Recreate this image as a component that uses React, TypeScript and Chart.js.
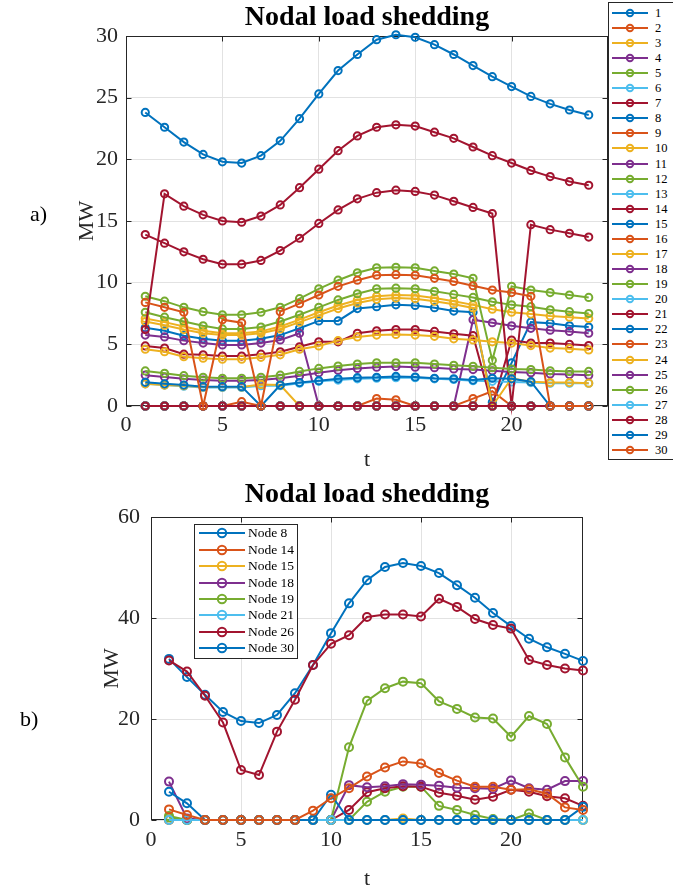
import React, { useEffect, useRef } from 'react';
import { Chart, registerables } from 'chart.js';

Chart.register(...registerables);

const FONT = '"Liberation Serif", "Times New Roman", serif';
const COLORS = ['#0072BD', '#D95319', '#EDB120', '#7E2F8E', '#77AC30', '#4DBEEE', '#A2142F'];

// time steps
const T = [1, 2, 3, 4, 5, 6, 7, 8, 9, 10, 11, 12, 13, 14, 15, 16, 17, 18, 19, 20, 21, 22, 23, 24];

// ---------- (a) nodal load shedding, nodes 1..30 ----------
const ZERO = [0, 0, 0, 0, 0, 0, 0, 0, 0, 0, 0, 0, 0, 0, 0, 0, 0, 0, 0, 0, 0, 0, 0, 0];
const N1 = [6.35, 6.1, 5.7, 5.45, 5.3, 5.3, 5.45, 5.75, 6.3, 6.9, 6.9, 7.9, 8.05, 8.2, 8.15, 7.97, 7.7, 7.6, 0.3, 3.5, 6.8, 6.7, 6.5, 6.4];
const N2 = ZERO;
const N3 = [7.1, 6.8, 6.45, 6.1, 5.9, 5.9, 6.05, 6.45, 7.0, 7.6, 8.15, 8.6, 8.9, 9.0, 8.95, 8.75, 8.5, 8.2, 7.85, 7.6, 7.45, 7.3, 7.2, 7.1];
const N4 = [5.75, 5.6, 5.3, 5.1, 4.95, 4.95, 5.1, 5.35, 5.9, 0, 0, 0, 0, 0, 0, 0, 0, 7.0, 6.75, 6.5, 6.3, 6.15, 6.05, 5.9];
const N5 = [8.9, 8.5, 8.0, 7.65, 7.4, 7.4, 7.6, 8.0, 8.7, 9.5, 10.2, 10.8, 11.2, 11.25, 11.2, 10.95, 10.7, 10.35, 3.7, 9.7, 9.4, 9.2, 9.0, 8.8];
const N6 = [1.8, 1.7, 1.6, 1.5, 1.5, 1.5, 1.65, 1.65, 1.85, 2.0, 2.1, 2.2, 2.25, 2.3, 2.3, 2.2, 2.15, 2.05, 2.0, 1.95, 1.9, 1.85, 1.85, 1.85];
const N7 = [4.87, 4.7, 4.2, 4.15, 4.05, 4.05, 4.2, 4.4, 4.8, 5.2, 5.2, 5.9, 6.1, 6.2, 6.2, 6.05, 5.85, 5.7, 0, 5.35, 5.1, 5.1, 5.0, 4.9];
const N8 = [23.8, 22.6, 21.4, 20.4, 19.8, 19.7, 20.3, 21.5, 23.3, 25.3, 27.2, 28.5, 29.7, 30.1, 29.9, 29.3, 28.5, 27.6, 26.7, 25.9, 25.1, 24.5, 24.0, 23.6];
const N9 = [0, 0, 0, 0, 0, 0.35, 0, 0, 0, 0, 0, 0, 0.6, 0.5, 0, 0, 0, 0.6, 1.2, 0, 0, 0, 0, 0];
const N10 = [4.6, 4.4, 4.0, 3.87, 3.8, 3.8, 3.95, 4.15, 4.6, 4.87, 5.3, 5.6, 5.75, 5.8, 5.75, 5.65, 5.45, 5.35, 5.2, 5.1, 4.9, 4.7, 4.65, 4.55];
const N11 = [2.5, 2.35, 2.2, 2.1, 2.05, 2.05, 2.1, 2.25, 2.45, 2.7, 2.9, 3.05, 3.15, 3.2, 3.15, 3.1, 3.0, 2.95, 2.85, 2.75, 2.7, 2.6, 2.55, 2.5];
const N12 = [7.6, 7.2, 6.85, 6.5, 6.25, 6.25, 6.4, 6.85, 7.4, 8.0, 8.6, 9.1, 9.5, 9.55, 9.5, 9.3, 9.05, 8.8, 8.45, 8.2, 8.05, 7.8, 7.65, 7.5];
const N13 = ZERO;
const N14 = [13.9, 13.2, 12.5, 11.9, 11.5, 11.5, 11.8, 12.6, 13.6, 14.8, 15.9, 16.8, 17.3, 17.5, 17.4, 17.1, 16.6, 16.1, 15.6, 0, 14.7, 14.3, 14.0, 13.7];
const N15 = ZERO;
const N16 = ZERO;
const N17 = [6.85, 6.55, 6.2, 5.9, 5.75, 5.75, 5.9, 6.25, 6.8, 7.35, 7.9, 8.35, 8.65, 8.75, 8.7, 8.5, 8.25, 7.95, 0, 2.25, 1.97, 1.9, 1.9, 1.85];
const N18 = ZERO;
const N19 = [2.84, 2.65, 2.46, 2.33, 2.25, 2.25, 2.33, 2.5, 2.8, 3.05, 3.24, 3.4, 3.5, 3.5, 3.5, 3.4, 3.3, 3.22, 3.1, 3.0, 2.95, 2.85, 2.8, 2.8];
const N20 = ZERO;
const N21 = [6.2, 17.2, 16.2, 15.5, 15.0, 14.9, 15.4, 16.3, 17.7, 19.2, 20.7, 21.9, 22.6, 22.8, 22.7, 22.2, 21.7, 21.0, 20.3, 19.7, 19.1, 18.6, 18.2, 17.9];
const N22 = ZERO;
const N23 = ZERO;
const N24 = [1.8, 1.7, 1.65, 1.55, 1.55, 1.55, 1.75, 1.7, 0, 0, 0, 0, 0, 0, 0, 0, 0, 0, 0, 0, 0, 0, 0, 0];
const N25 = ZERO;
const N26 = ZERO;
const N27 = ZERO;
const N28 = ZERO;
const N29 = [1.92, 1.8, 1.7, 1.57, 1.57, 1.57, 0, 1.7, 1.9, 2.05, 2.2, 2.3, 2.33, 2.4, 2.35, 2.25, 2.2, 2.1, 2.25, 2.2, 1.97, 0, 0, 0];
const N30 = [8.4, 8.0, 7.6, 0, 7.0, 6.75, 0, 7.65, 8.3, 9.0, 9.7, 10.2, 10.6, 10.65, 10.6, 10.35, 10.1, 9.75, 9.4, 9.2, 8.9, 0, 0, 0];

const TOP_SERIES = [N1, N2, N3, N4, N5, N6, N7, N8, N9, N10, N11, N12, N13, N14, N15, N16, N17, N18, N19, N20, N21, N22, N23, N24, N25, N26, N27, N28, N29, N30];
const TOP_LABELS = ['1', '2', '3', '4', '5', '6', '7', '8', '9', '10', '11', '12', '13', '14', '15', '16', '17', '18', '19', '20', '21', '22', '23', '24', '25', '26', '27', '28', '29', '30'];

// ---------- (b) selected nodes ----------
const NODE8 = [31.9, 28.3, 24.8, 21.4, 19.6, 19.2, 20.8, 25.1, 30.7, 37.0, 42.9, 47.5, 50.1, 50.9, 50.3, 48.9, 46.5, 44.0, 41.0, 38.4, 35.9, 34.2, 32.9, 31.5];
const NODE14 = [2.1, 1.0, 0, 0, 0, 0, 0, 0, 1.85, 4.3, 6.3, 8.6, 10.4, 11.6, 11.2, 9.3, 7.8, 6.6, 6.6, 6.0, 6.1, 5.2, 2.5, 2.0];
const NODE15 = [0, 0, 0, 0, 0, 0, 0, 0, 0, 0, 0, 0, 0, 0.3, 0, 0, 0, 0, 0, 0, 0, 0, 0, 0];
const NODE18 = [7.6, 0.3, 0, 0, 0, 0, 0, 0, 0, 0, 6.9, 6.5, 6.7, 7.1, 7.0, 6.8, 6.4, 6.3, 6.2, 7.8, 6.3, 6.0, 7.7, 7.7];
const NODE19 = [0.5, 0, 0, 0, 0, 0, 0, 0, 0, 0, 14.4, 23.6, 26.1, 27.4, 27.1, 23.5, 22.0, 20.3, 20.1, 16.5, 20.6, 19.0, 12.4, 6.6];
const NODE21 = [0, 0, 0, 0, 0, 0, 0, 0, 0, 0, 0, 0, 0, 0, 0, 0, 0, 0, 0, 0, 0, 0, 0, 0];
const NODE26 = [31.6, 29.4, 24.6, 19.3, 9.9, 8.9, 17.5, 23.8, 30.7, 34.9, 36.6, 40.2, 40.7, 40.7, 40.3, 43.8, 42.2, 39.8, 38.6, 37.9, 31.7, 30.7, 30.0, 29.6];
const NODE30 = [5.6, 3.3, 0, 0, 0, 0, 0, 0, 0, 5.0, 0, 0, 0, 0, 0, 0, 0, 0, 0, 0, 0, 0, 0, 2.6];
const EXTRA_GREEN = [0.8, 0, 0, 0, 0, 0, 0, 0, 0, 0, 0, 3.6, 5.6, 6.6, 6.6, 2.8, 2.0, 1.0, 0.2, 0, 1.3, 0, 0, 0];
const EXTRA_RED = [0, 0, 0, 0, 0, 0, 0, 0, 0, 0, 2.0, 5.5, 6.3, 6.7, 6.6, 5.4, 4.8, 4.0, 4.6, 6.0, 5.6, 4.7, 4.3, 2.8];

const BOTTOM_SERIES = [NODE8, NODE14, NODE15, NODE18, NODE19, NODE21, NODE26, NODE30];
const BOTTOM_LABELS = ['Node 8', 'Node 14', 'Node 15', 'Node 18', 'Node 19', 'Node 21', 'Node 26', 'Node 30'];
const BOTTOM_COLORS = [COLORS[0], COLORS[1], COLORS[2], COLORS[3], COLORS[4], COLORS[5], COLORS[6], COLORS[0]];
const BOTTOM_ORDER = [8, 1, 7, 6, 5, 4, 3, 2]; // lower = drawn later (on top)

const boxPlugin = {
  id: 'matlabBox',
  beforeDatasetsDraw(chart: any) {
    const { ctx, chartArea: a, scales } = chart;
    ctx.save();
    ctx.strokeStyle = '#262626';
    ctx.lineWidth = 1;
    const L = Math.round(a.left) + 0.5, R = Math.round(a.right) - 0.5;
    const Tp = Math.round(a.top) + 0.5, B = Math.round(a.bottom) - 0.5;
    ctx.strokeRect(L, Tp, R - L, B - Tp);
    const tl = 5;
    ctx.beginPath();
    scales.x.ticks.forEach((t: any) => {
      const px = Math.round(scales.x.getPixelForValue(t.value)) + 0.5;
      ctx.moveTo(px, B); ctx.lineTo(px, B - tl);
      ctx.moveTo(px, Tp); ctx.lineTo(px, Tp + tl);
    });
    scales.y.ticks.forEach((t: any) => {
      const py = Math.round(scales.y.getPixelForValue(t.value)) + 0.5;
      ctx.moveTo(L, py); ctx.lineTo(L + tl, py);
      ctx.moveTo(R, py); ctx.lineTo(R - tl, py);
    });
    ctx.stroke();
    ctx.restore();
  },
};

function axisFont(size: number) {
  return { family: FONT, size, weight: 'normal' as const };
}

function makeDataset(arr: number[], color: string, label: string, order: number, r: number) {
  return {
    label,
    data: T.map((t, j) => ({ x: t, y: arr[j] })),
    borderColor: color,
    backgroundColor: color,
    pointBorderColor: color,
    pointBackgroundColor: 'rgba(0,0,0,0)',
    pointRadius: r,
    pointBorderWidth: 2,
    borderWidth: 2,
    tension: 0,
    clip: false as const,
    order,
  };
}

function TopChart() {
  const ref = useRef<HTMLCanvasElement>(null);
  useEffect(() => {
    const datasets = TOP_SERIES.map((arr, i) => makeDataset(arr, COLORS[i % 7], TOP_LABELS[i], 30 - i, 3.6));
    const chart = new Chart(ref.current as HTMLCanvasElement, {
      type: 'line',
      data: { datasets } as any,
      options: {
        responsive: false,
        animation: false,
        devicePixelRatio: 1,
        layout: { padding: { left: 0, right: 65, top: 0, bottom: 0 } },
        plugins: {
          legend: { display: false },
          tooltip: { enabled: false },
          title: {
            display: true,
            text: 'Nodal load shedding',
            fullSize: false,
            color: '#000',
            font: { family: FONT, size: 28, weight: 'bold' },
            padding: { top: 0.6, bottom: 1.8 },
          },
        },
        scales: {
          x: {
            type: 'linear',
            min: 0,
            max: 25,
            afterFit: (s: any) => { s.height = 69; },
            ticks: {
              stepSize: 5,
              includeBounds: false,
              padding: 6,
              color: '#262626',
              font: axisFont(22),
              maxRotation: 0,
              autoSkip: false,
              callback: (v: any) => (v === 25 ? '' : String(v)),
            },
            grid: { color: '#e2e2e2', drawTicks: false },
            border: { display: false },
            title: { display: true, text: 't', color: '#262626', font: axisFont(22), padding: { top: 0, bottom: 2 } },
          },
          y: {
            min: 0,
            max: 30,
            afterFit: (s: any) => { s.width = 126; },
            ticks: { stepSize: 5, padding: 8, color: '#262626', font: axisFont(22) },
            grid: { color: '#e2e2e2', drawTicks: false },
            border: { display: false },
            title: { display: true, text: 'MW', color: '#262626', font: axisFont(22), padding: { top: 74, bottom: 0 } },
          },
        },
      } as any,
      plugins: [boxPlugin],
    });
    return () => chart.destroy();
  }, []);
  return <canvas ref={ref} width={673} height={475} style={{ position: 'absolute', left: 0, top: 0, width: 673, height: 475 }} />;
}

function BottomChart() {
  const ref = useRef<HTMLCanvasElement>(null);
  useEffect(() => {
    const datasets = [
      makeDataset(EXTRA_GREEN, COLORS[4], '', 20, 4),
      makeDataset(EXTRA_RED, COLORS[6], '', 19, 4),
      ...BOTTOM_SERIES.map((arr, i) => makeDataset(arr, BOTTOM_COLORS[i], BOTTOM_LABELS[i], BOTTOM_ORDER[i], 4)),
    ];
    const chart = new Chart(ref.current as HTMLCanvasElement, {
      type: 'line',
      data: { datasets } as any,
      options: {
        responsive: false,
        animation: false,
        devicePixelRatio: 1,
        layout: { padding: { left: 0, right: 90, top: 0, bottom: 0 } },
        plugins: {
          legend: { display: false },
          tooltip: { enabled: false },
          title: {
            display: true,
            text: 'Nodal load shedding',
            fullSize: false,
            color: '#000',
            font: { family: FONT, size: 28, weight: 'bold' },
            padding: { top: 8.2, bottom: 5.2 },
          },
        },
        scales: {
          x: {
            type: 'linear',
            min: 0,
            max: 24,
            afterFit: (s: any) => { s.height = 72; },
            ticks: {
              stepSize: 5,
              includeBounds: false,
              padding: 7,
              color: '#262626',
              font: axisFont(22),
              maxRotation: 0,
              autoSkip: false,
            },
            grid: { color: '#e2e2e2', drawTicks: false },
            border: { display: false },
            title: { display: true, text: 't', color: '#262626', font: axisFont(22), padding: { top: 0, bottom: 0 } },
          },
          y: {
            min: 0,
            max: 60,
            afterFit: (s: any) => { s.width = 151; },
            ticks: { stepSize: 20, padding: 11, color: '#262626', font: axisFont(22) },
            grid: { color: '#e2e2e2', drawTicks: false },
            border: { display: false },
            title: { display: true, text: 'MW', color: '#262626', font: axisFont(22), padding: { top: 98.8, bottom: 0 } },
          },
        },
      } as any,
      plugins: [boxPlugin],
    });
    return () => chart.destroy();
  }, []);
  return <canvas ref={ref} width={673} height={422} style={{ position: 'absolute', left: 0, top: 470, width: 673, height: 422 }} />;
}

function LegendItem(props: { x: number; y: number; len: number; r: number; color: string; label: string; size: number; gap: number }) {
  const { x, y, len, r, color, label, size, gap } = props;
  return (
    <div style={{ position: 'absolute', left: x, top: y - 10, height: 20, display: 'flex', alignItems: 'center', whiteSpace: 'nowrap' }}>
      <svg width={len} height={20} style={{ display: 'block', flex: 'none' }}>
        <line x1={0} y1={10} x2={len} y2={10} stroke={color} strokeWidth={2} />
        <circle cx={len / 2} cy={10} r={r} fill="none" stroke={color} strokeWidth={2} />
      </svg>
      <span style={{ marginLeft: gap, fontFamily: FONT, fontSize: size, color: '#000', lineHeight: '20px' }}>{label}</span>
    </div>
  );
}

export default function App() {
  return (
    <div style={{ position: 'absolute', left: 0, top: 0, width: 673, height: 892, overflow: 'hidden', background: '#fff' }}>
      <TopChart />
      <BottomChart />
      {/* legend (a) */}
      <div style={{ position: 'absolute', left: 608, top: 2, width: 80, height: 458, border: '1px solid #262626', background: '#fff', boxSizing: 'border-box' }} />
      {TOP_LABELS.map((lab, i) => (
        <LegendItem key={lab} x={612} y={12.7 + 15.08 * i} len={36} r={3.2} color={COLORS[i % 7]} label={lab} size={12.5} gap={7} />
      ))}
      {/* legend (b) */}
      <div style={{ position: 'absolute', left: 194, top: 524, width: 104, height: 135, border: '1px solid #262626', background: '#fff', boxSizing: 'border-box' }} />
      {BOTTOM_LABELS.map((lab, i) => (
        <LegendItem key={lab} x={199} y={533.3 + 16.4 * i} len={46} r={4.2} color={BOTTOM_COLORS[i]} label={lab} size={13.5} gap={3} />
      ))}
      <div style={{ position: 'absolute', left: 30, top: 202, fontFamily: FONT, fontSize: 22, lineHeight: '24px', color: '#000' }}>a)</div>
      <div style={{ position: 'absolute', left: 20, top: 707, fontFamily: FONT, fontSize: 22, lineHeight: '24px', color: '#000' }}>b)</div>
    </div>
  );
}
